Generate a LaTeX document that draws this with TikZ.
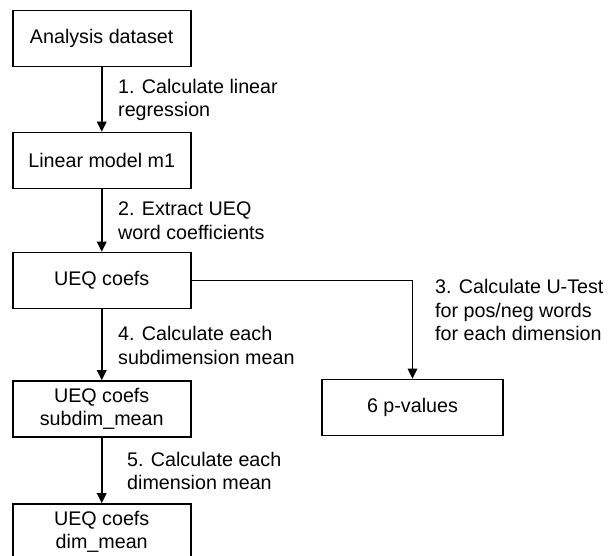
\documentclass[tikz,border=0pt]{standalone}
\usepackage{fontspec}
\setmainfont{Liberation Sans}
\usetikzlibrary{arrows.meta}

\tikzset{
  stepbox/.style={draw=black,line width=1.6pt,minimum width=178pt,minimum height=56pt,
    inner sep=0pt,align=center,font=\fontsize{19.7}{23.5}\selectfont},
  flow/.style={draw=black,line width=1.6pt,-{Triangle[length=10pt,width=9.5pt]}},
  note/.style={anchor=west,inner sep=0pt,align=left,font=\fontsize{19.7}{23.5}\selectfont}
}

\begin{document}
\begin{tikzpicture}[x=1pt,y=-1pt]
\useasboundingbox (0,0) rectangle (608,556);

% boxes, left column:
\node[stepbox] (data) at (101.7,38.7) {Analysis dataset};
\node[stepbox] (model) at (101.7,160.5) {Linear model m1};
\node[stepbox] (coefs) at (101.7,280.5) {UEQ coefs};
\node[stepbox] (subdim) at (101.7,409) {UEQ coefs\\subdim\_mean};
\node[stepbox] (dimmean) at (101.7,532) {UEQ coefs\\dim\_mean};

% box, right column:
\node[stepbox,minimum width=181pt] (pval) at (412.5,407.5) {6 p-values};

% connectors:
\draw[flow] (data) -- (model);
\draw[flow] (model) -- (coefs);
\draw[flow] (coefs) -- (subdim);
\draw[flow] (subdim) -- (dimmean);
\draw[flow] (coefs.east) -| (pval.north);

% labels:
\node[note] (lblreg) at (118,100) {1. Calculate linear\\regression};
\node[note] (lblextract) at (118,220.5) {2. Extract UEQ\\word coefficients};
\node[note] (lbltest) at (435,310) {3. Calculate U-Test\\for pos/neg words\\for each dimension};
\node[note] (lblsubdim) at (118,345.5) {4. Calculate each\\subdimension mean};
\node[note] (lbldim) at (127,471) {5. Calculate each\\dimension mean};

\end{tikzpicture}
\end{document}
